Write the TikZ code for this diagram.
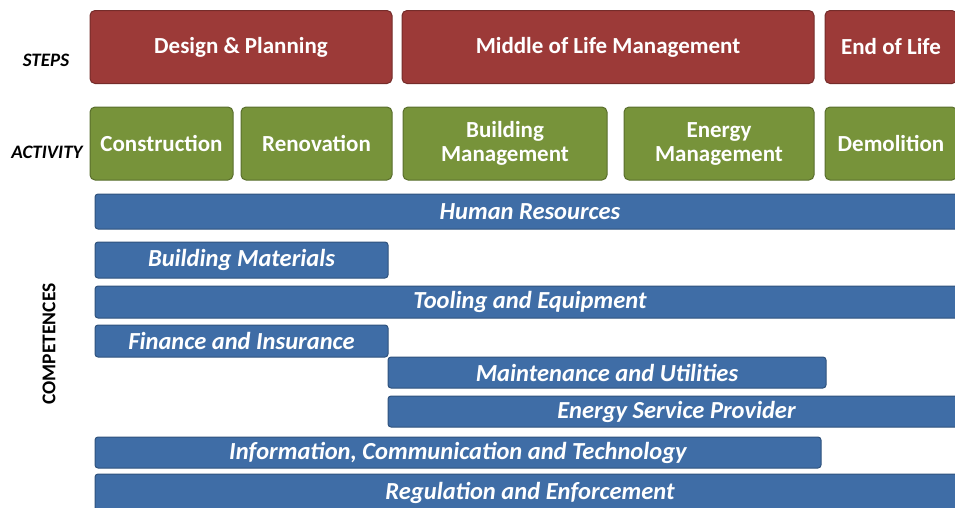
\documentclass[tikz,border=0pt]{standalone}
\usepackage{fontspec}
\setmainfont{Carlito}
\definecolor{stepred}{HTML}{9C3A38}
\definecolor{actgreen}{HTML}{77933A}
\definecolor{compblue}{HTML}{3F6DA6}
\begin{document}
\begin{tikzpicture}[x=1pt,y=-1pt,
  box/.style={rounded corners=5pt, line width=1pt, text=white, align=center, inner sep=0pt,
    font=\bfseries\fontsize{23}{24}\selectfont},
  stepbox/.style={box, fill=stepred, draw=stepred!75!black},
  actbox/.style={box, fill=actgreen, draw=actgreen!75!black},
  compbar/.style={box, rounded corners=3pt, fill=compblue, draw=compblue!75!black,
    font=\bfseries\itshape\fontsize{24.5}{26}\selectfont},
  rowlabel/.style={font=\bfseries\itshape\fontsize{19}{21}\selectfont}]

\useasboundingbox (0,0) rectangle (955,507);
\clip (0,0) rectangle (955,507);

% Row labels
\node[rowlabel] (steps) at (46,60) {STEPS};
\node[rowlabel] (activity) at (47,152) {ACTIVITY};
\node[font=\bfseries\fontsize{19.5}{21}\selectfont, rotate=90] (competences) at (49,344) {COMPETENCES};

% Steps
\node[stepbox, minimum width=302pt, minimum height=73pt] (design) at (241,47) {Design \& Planning};
\node[stepbox, minimum width=412pt, minimum height=73pt] (middle) at (608,47) {Middle of Life Management};
\node[stepbox, minimum width=132pt, minimum height=73pt] (endlife) at (891,47) {End of Life};

% Activities
\node[actbox, minimum width=143pt, minimum height=73pt] (construction) at (161.5,143.5) {Construction};
\node[actbox, minimum width=151pt, minimum height=73pt] (renovation) at (316.5,143.5) {Renovation};
\node[actbox, minimum width=204pt, minimum height=73pt] (buildmgmt) at (505,143.5) {Building\\Management};
\node[actbox, minimum width=190pt, minimum height=73pt] (energymgmt) at (719,143.5) {Energy\\Management};
\node[actbox, minimum width=132pt, minimum height=73pt] (demolition) at (891,143.5) {Demolition};

% Competences
\node[compbar, minimum width=870pt, minimum height=35pt] (human) at (530,211.5) {Human Resources};
\node[compbar, minimum width=293pt, minimum height=36pt] (materials) at (241.5,260) {Building Materials};
\node[compbar, minimum width=870pt, minimum height=32pt] (tooling) at (530,302) {Tooling and Equipment};
\node[compbar, minimum width=293pt, minimum height=32pt] (finance) at (241.5,341) {Finance and Insurance};
\node[compbar, minimum width=438pt, minimum height=31pt] (maintenance) at (607,372.5) {Maintenance and Utilities};
\node[compbar, minimum width=577pt, minimum height=31pt] (esp) at (676.5,411.5) {Energy Service Provider};
\node[compbar, minimum width=726pt, minimum height=31pt] (ict) at (458,452.5) {Information, Communication and Technology};
\node[compbar, minimum width=870pt, minimum height=38pt] (regulation) at (530,493) {Regulation and Enforcement};

\end{tikzpicture}
\end{document}
